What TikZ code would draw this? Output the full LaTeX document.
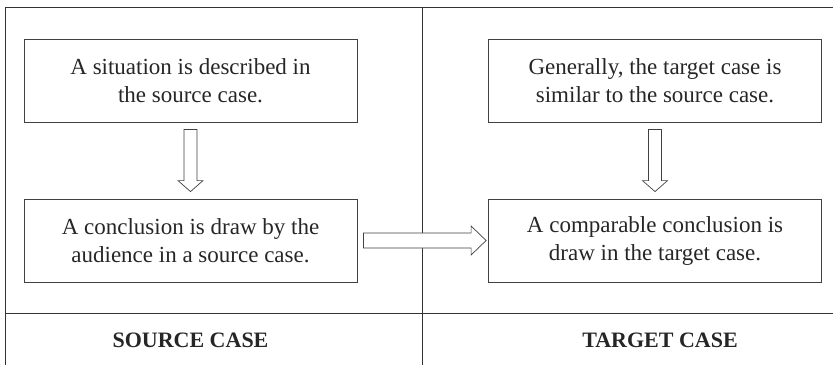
\documentclass[tikz,border=0pt]{standalone}
\usepackage{fontspec}
\setmainfont{Liberation Serif}
\usetikzlibrary{calc}
\tikzset{
  box/.style={draw=black!75, line width=0.8pt, minimum width=333pt, minimum height=83pt,
    align=center, inner sep=0pt, font=\fontsize{23}{28}\selectfont, text=black!85},
  frame/.style={draw=black!80, line width=0.8pt},
  blockarrow/.style={draw=black!75, line width=0.7pt, fill=white, line join=miter},
  caselabel/.style={font=\fontsize{22}{24}\selectfont\bfseries, text=black!85}
}
\begin{document}
\begin{tikzpicture}[x=1pt,y=-1pt]
\useasboundingbox (0,0) rectangle (833,365);
% frame
\coordinate (tl) at (5,7);
\coordinate (tr) at (833,7);
\coordinate (bl) at (5,365);
\coordinate (dt) at (422,7);
\coordinate (db) at (422,365);
\coordinate (hl) at (5,313);
\coordinate (hr) at (833,313);
\draw[frame] (bl) -- (tl) -- (tr);
\draw[frame] (dt) -- (db);
\draw[frame] (hl) -- (hr);
% boxes
\node[box] (s1) at (190.5,80.5) {A situation is described in\\the source case.};
\node[box] (s2) at (190.5,240.5) {A conclusion is draw by the\\audience in a source case.};
\node[box] (t1) at (655,80.5) {Generally, the target case is\\similar to the source case.};
\node[box] (t2) at (655,240.5) {A comparable conclusion is\\draw in the target case.};
% labels
\node[caselabel] (sl) at (190.5,340.5) {SOURCE CASE};
\node[caselabel] (tl2) at (660,340.5) {TARGET CASE};
% vertical block arrows
\draw[blockarrow] let \p1=($(s1.south)+(0,7)$), \p2=($(s2.north)+(0,-7)$) in
  (\x1-6.5pt,\y1) -- (\x1-6.5pt,\y2+11pt) -- (\x1-12.5pt,\y2+11pt) -- (\x2,\y2)
  -- (\x1+12.5pt,\y2+11pt) -- (\x1+6.5pt,\y2+11pt) -- (\x1+6.5pt,\y1) -- cycle;
\draw[blockarrow] let \p1=($(t1.south)+(0,7)$), \p2=($(t2.north)+(0,-7)$) in
  (\x1-6.5pt,\y1) -- (\x1-6.5pt,\y2+11pt) -- (\x1-12.5pt,\y2+11pt) -- (\x2,\y2)
  -- (\x1+12.5pt,\y2+11pt) -- (\x1+6.5pt,\y2+11pt) -- (\x1+6.5pt,\y1) -- cycle;
% horizontal block arrow
\draw[blockarrow] let \p1=($(s2.east)+(6,0)$), \p2=($(t2.west)+(-2,0)$) in
  (\x1,\y1+7.5pt) -- (\x2-15pt,\y1+7.5pt) -- (\x2-15pt,\y1+14.5pt) -- (\x2,\y1)
  -- (\x2-15pt,\y1-14.5pt) -- (\x2-15pt,\y1-7.5pt) -- (\x1,\y1-7.5pt) -- cycle;
\end{tikzpicture}
\end{document}
